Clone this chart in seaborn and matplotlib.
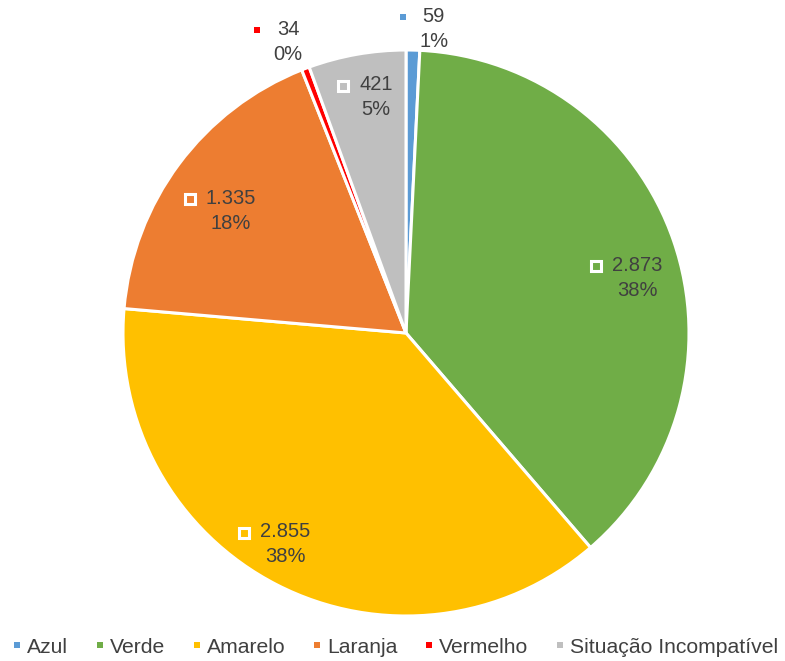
import numpy as np
import matplotlib
matplotlib.use('Agg')
import matplotlib.pyplot as plt
import seaborn as sns
from matplotlib.lines import Line2D

# data
categories = ['Azul', 'Verde', 'Amarelo', 'Laranja', 'Vermelho', 'Situação Incompatível']
values = [59, 2873, 2855, 1335, 34, 421]
value_labels = ['59', '2.873', '2.855', '1.335', '34', '421']
pct_labels = ['1%', '38%', '38%', '18%', '0%', '5%']
colors = ['#5B9BD5', '#70AD47', '#FFC000', '#ED7D31', '#FF0000', '#BFBFBF']

# label placement (radius in pie units, angle nudge in degrees, inside slice?)
label_radius = [1.08, 0.84, 0.86, 0.755, 1.11, 0.84]
label_nudge = [-3.8, -5.5, -2.6, 1.7, 1.2, -2.8]
label_inside = [False, True, True, True, False, True]

sns.set_theme(style='white')
plt.rcParams['font.family'] = ['Liberation Sans', 'DejaVu Sans']
TEXT = '#404040'
FS = 14.5

W, H = 785, 661
fig = plt.figure(figsize=(W / 100, H / 100), dpi=100)
cx_px, cy_px, r_px = 406, 333, 283
ax = fig.add_axes([(cx_px - r_px) / W, (H - cy_px - r_px) / H, 2 * r_px / W, 2 * r_px / H])

wedges, _ = ax.pie(values, colors=colors, startangle=90, counterclock=False,
                   wedgeprops=dict(edgecolor='white', linewidth=2.2))
ax.set_xlim(-1, 1)
ax.set_ylim(-1, 1)
ax.set_aspect('equal')
ax.axis('off')

value_texts = []
for i, w in enumerate(wedges):
    ang = np.deg2rad((w.theta1 + w.theta2) / 2 + label_nudge[i])
    x = label_radius[i] * np.cos(ang)
    y = label_radius[i] * np.sin(ang)
    t = ax.annotate(value_labels[i], xy=(x, y), xytext=(0, 9), textcoords='offset points',
                    ha='center', va='center', fontsize=FS, color=TEXT, annotation_clip=False)
    ax.annotate(pct_labels[i], xy=(x, y), xytext=(0, -9), textcoords='offset points',
                ha='center', va='center', fontsize=FS, color=TEXT, annotation_clip=False)
    value_texts.append(t)

# legend-key squares to the left of each value label
fig.canvas.draw()
renderer = fig.canvas.get_renderer()
inv = ax.transData.inverted()
for i, t in enumerate(value_texts):
    bb = t.get_window_extent(renderer)
    gap = 16 if label_inside[i] else 20
    mx, my = inv.transform((bb.x0 - gap, (bb.y0 + bb.y1) / 2 - 1))
    if label_inside[i]:
        ax.plot(mx, my, marker='s', ms=6.5, mfc=colors[i], mec='white', mew=2.2,
                zorder=5, clip_on=False)
    else:
        ax.plot(mx, my, marker='s', ms=5, mfc=colors[i], mec=colors[i], mew=0,
                zorder=5, clip_on=False)

handles = [Line2D([], [], ls='', marker='s', ms=5, mfc=c, mec=c, mew=0) for c in colors]
leg = fig.legend(handles, categories, loc='lower center', bbox_to_anchor=(0.504, -0.022), ncol=6,
                 frameon=False, fontsize=15.2, handlelength=0.35, handletextpad=0.3,
                 columnspacing=1.32, labelcolor=TEXT)

fig.savefig('out.png', dpi=100)
